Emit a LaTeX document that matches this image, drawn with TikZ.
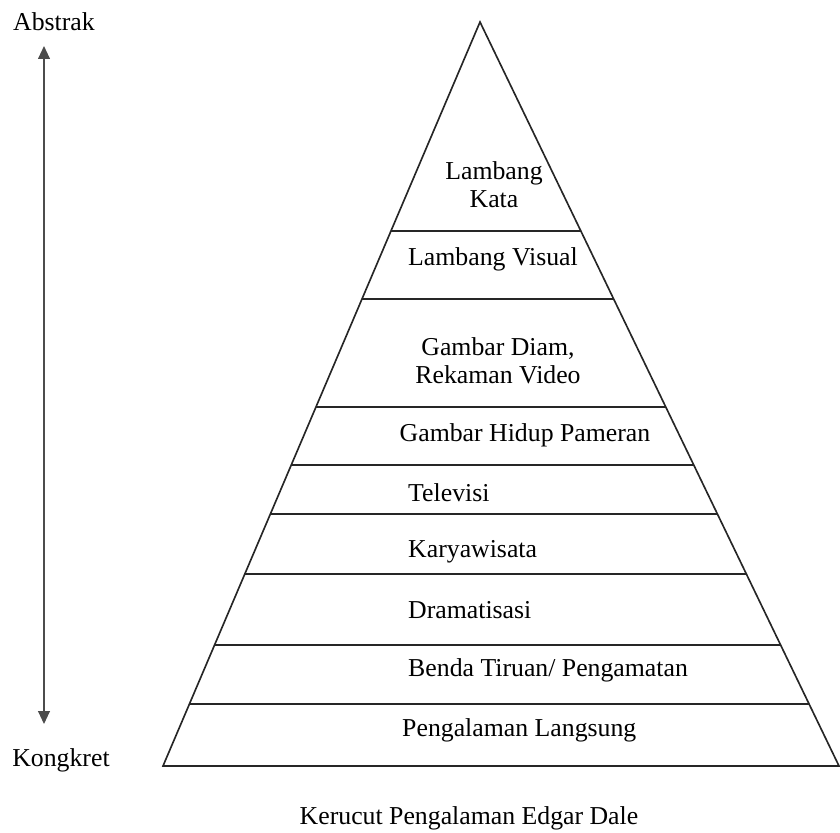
\documentclass[tikz,border=0pt]{standalone}
\usepackage{fontspec}
\setmainfont{Liberation Serif}
\usetikzlibrary{calc,arrows.meta}
\begin{document}
\begin{tikzpicture}[x=0.03cm, y=-0.03cm,
  every node/.style={font=\fontsize{22}{24}\selectfont, inner sep=0pt},
  layer/.style={line width=1.4pt, color=black!85},
  lbl/.style={anchor=west}]
  \useasboundingbox (0,0) rectangle (840,832);
  % kerucut
  \coordinate (top) at (480,22);
  \coordinate (bl) at (163,766);
  \coordinate (br) at (839,766);
  \draw[layer, line join=miter] (bl) -- (top) -- (br) -- cycle;
  \foreach \y in {231,299,407,465,514,574,645,704}
    \draw[layer] ($(top)!{(\y-22)/744}!(bl)$) -- ($(top)!{(\y-22)/744}!(br)$);
  % panah abstrak - kongkret
  \node (abs) at (54,22) {Abstrak};
  \node (kon) at (61,760) {Kongkret};
  \coordinate (up) at (44,46);
  \coordinate (down) at (44,724);
  \draw[{Triangle[length=11pt,width=10pt]}-{Triangle[length=11pt,width=10pt]}, line width=1.3pt, black!70] (down) -- (up);
  % label
  \node[align=center] (kata) at (494,185) {Lambang\\Kata};
  \node (visual) at (493,259) {Lambang Visual};
  \node[align=center] (diam) at (498,361) {Gambar Diam,\\Rekaman Video};
  \node (hidup) at (525,435) {Gambar Hidup Pameran};
  \foreach \y/\n/\t in {493/tv/Televisi, 552/karya/Karyawisata, 610/drama/Dramatisasi, 670/benda/{Benda Tiruan/ Pengamatan}}
    \node[lbl] (\n) at (408,\y) {\t};
  \node[lbl] (langsung) at (402,730) {Pengalaman Langsung};
  \node (judul) at (469,818) {Kerucut Pengalaman Edgar Dale};
\end{tikzpicture}
\end{document}
